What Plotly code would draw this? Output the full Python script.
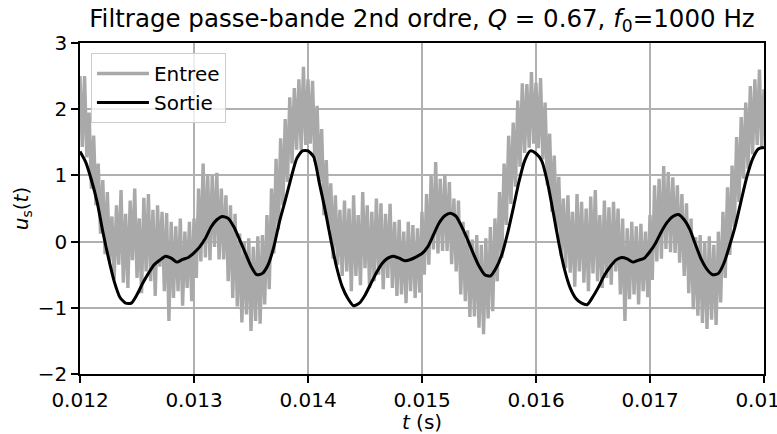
import numpy as np
import plotly.graph_objects as go

# ---- data ----
t_start = 0.012
dt_entree = 0.00002
dt_sortie = 0.00005

entree_p1 = [2.50, 1.43, 2.50, 1.27, 1.95, 0.80, 1.60, 0.55, 1.18, 0.12,
             0.93, -0.19, 0.75, -0.30, 0.38, -0.57, 0.55, -0.35, 0.78, -0.62,
             0.42, -0.70, 0.62, -0.28, 0.80, -0.55, 0.35, -0.78, 0.66, -0.45,
             0.72, -0.60, 0.48, -0.82, 0.55, -0.38, 0.45, -0.75, 0.43, -1.20,
             0.30, -0.85, 0.23, -0.75, 0.35, -0.97, 0.15, -0.70, 0.30, -0.90,
             0.35, -0.55, 0.80, -0.30, 1.18, -0.24, 1.02, -0.28, 1.00, -0.08,
             1.04, -0.27, 0.80, -0.27, 0.70, -0.60, 0.55, -0.85, 0.42, -0.98,
             0.12, -1.22, 0.00, -1.10, 0.05, -1.35, -0.08, -1.20, 0.08, -1.24,
             0.10, -0.95, 0.40, -0.72, 0.80, -0.18, 1.25, 0.18, 1.56, 0.55,
             1.85, 0.90, 2.18, 1.18, 2.32, 1.39, 2.45, 1.39, 2.64, 1.46]
entree_p2 = [2.45, 1.48, 2.43, 1.20, 2.05, 0.90, 1.70, 0.40, 1.23, 0.20,
             0.88, -0.26, 0.70, -0.35, 0.48, -0.52, 0.62, -0.45, 0.50, -0.75,
             0.70, -0.52, 0.40, -0.66, 0.75, -0.40, 0.55, -0.70, 0.45, -0.60,
             0.65, -0.50, 0.58, -0.72, 0.42, -0.55, 0.57, -0.70, 0.30, -0.82,
             0.33, -0.80, 0.15, -0.93, 0.30, -0.75, 0.25, -0.85, 0.20, -0.77,
             0.45, -0.50, 0.72, -0.35, 1.00, -0.12, 1.20, -0.18, 0.95, -0.14,
             1.02, -0.14, 0.90, -0.34, 0.65, -0.45, 0.62, -0.80, 0.30, -0.90,
             0.17, -1.14, 0.03, -1.13, 0.10, -1.30, -0.05, -1.40, 0.05, -1.16,
             0.22, -1.05, 0.35, -0.60, 0.75, -0.25, 1.18, 0.25, 1.60, 0.57,
             1.80, 0.83, 2.13, 1.13, 2.39, 1.34, 2.38, 1.42, 2.56, 1.48]
entree_p3 = [2.40, 1.41, 2.47, 1.24, 2.10, 0.85, 1.63, 0.45, 1.30, 0.17,
             0.98, -0.22, 0.65, -0.40, 0.70, -0.47, 0.45, -0.68, 0.72, -0.45,
             0.60, -0.62, 0.50, -0.75, 0.68, -0.48, 0.78, -0.60, 0.40, -0.70,
             0.62, -0.55, 0.52, -0.65, 0.60, -0.45, 0.50, -0.80, 0.35, -1.20,
             0.20, -0.87, 0.30, -0.80, 0.23, -0.95, 0.27, -0.75, 0.15, -0.84,
             0.40, -0.58, 0.85, -0.30, 0.95, -0.26, 1.14, -0.11, 1.05, -0.16,
             0.97, -0.17, 0.85, -0.32, 0.72, -0.52, 0.58, -0.78, 0.35, -1.02,
             0.07, -1.12, 0.10, -1.23, 0.00, -1.32, 0.08, -1.18, -0.05, -1.26,
             0.15, -0.92, 0.45, -0.55, 0.82, -0.20, 1.15, 0.22, 1.58, 0.60,
             1.88, 0.95, 2.10, 1.10, 2.35, 1.32, 2.45, 1.46, 2.60, 1.41]
entree_end = [2.30]

sortie_p1 = [1.36, 1.20, 0.93, 0.60, 0.15, -0.25, -0.60, -0.84, -0.93, -0.93,
             -0.80, -0.63, -0.48, -0.35, -0.28, -0.22, -0.25, -0.31, -0.27, -0.24,
             -0.17, -0.08, 0.05, 0.22, 0.33, 0.38, 0.35, 0.22, 0.03, -0.17,
             -0.37, -0.50, -0.48, -0.35, -0.08, 0.30, 0.62, 0.95, 1.25, 1.37]
sortie_p2 = [1.37, 1.28, 0.88, 0.48, 0.03, -0.38, -0.68, -0.86, -0.97, -0.93,
             -0.81, -0.64, -0.47, -0.33, -0.25, -0.22, -0.25, -0.29, -0.27, -0.23,
             -0.18, -0.08, 0.10, 0.28, 0.39, 0.43, 0.38, 0.22, 0.03, -0.18,
             -0.37, -0.50, -0.52, -0.40, -0.20, 0.12, 0.50, 0.90, 1.22, 1.37]
sortie_p3 = [1.33, 1.22, 0.90, 0.45, -0.02, -0.42, -0.70, -0.86, -0.93, -0.95,
             -0.83, -0.68, -0.51, -0.38, -0.28, -0.24, -0.26, -0.31, -0.28, -0.25,
             -0.15, -0.02, 0.15, 0.29, 0.38, 0.41, 0.33, 0.18, -0.05, -0.27,
             -0.42, -0.50, -0.48, -0.32, -0.05, 0.25, 0.62, 0.98, 1.25, 1.40]
sortie_end = [1.42]

x_ticks = [0.012, 0.013, 0.014, 0.015, 0.016, 0.017, 0.018]
x_ticklabels = ["0.012", "0.013", "0.014", "0.015", "0.016", "0.017", "0.018"]
y_ticks = [-2, -1, 0, 1, 2, 3]

entree = entree_p1 + entree_p2 + entree_p3 + entree_end
sortie = sortie_p1 + sortie_p2 + sortie_p3 + sortie_end
t_entree = t_start + dt_entree * np.arange(len(entree))
t_sortie = t_start + dt_sortie * np.arange(len(sortie))

# ---- figure ----
FONT = "DejaVu Sans"
fig = go.Figure()
fig.add_trace(go.Scatter(x=t_entree, y=entree, mode="lines", name="Entree",
                         line=dict(color="#a9a9a9", width=3.4)))
fig.add_trace(go.Scatter(x=t_sortie, y=sortie, mode="lines", name="Sortie",
                         line=dict(color="black", width=3, shape="spline", smoothing=0.6)))

axis_common = dict(showgrid=True, gridcolor="#b0b0b0", gridwidth=1.6,
                   showline=True, linecolor="black", linewidth=1.6, mirror=True,
                   ticks="outside", ticklen=7, tickwidth=1.6, tickcolor="black",
                   zeroline=False, automargin=False, ticklabeloverflow="allow",
                   tickfont=dict(family=FONT, size=20, color="black"))

fig.update_xaxes(range=[0.012, 0.018], tickvals=x_ticks, ticktext=x_ticklabels,
                 title=dict(text="<i>t</i> (s)", font=dict(family=FONT, size=20, color="black"),
                            standoff=9),
                 **axis_common)
fig.update_yaxes(range=[-2, 3], tickvals=y_ticks,
                 title=dict(text="<i>u</i><sub>s</sub>(<i>t</i>)",
                            font=dict(family=FONT, size=20, color="black"), standoff=4),
                 **axis_common)

fig.update_layout(
    width=777, height=434,
    margin=dict(l=80, r=13, t=43, b=60),
    paper_bgcolor="white", plot_bgcolor="white",
    title=dict(text="Filtrage passe-bande 2nd ordre, <i>Q</i> = 0.67, <i>f</i><sub>0</sub>=1000 Hz",
               font=dict(family=FONT, size=24.5, color="black"),
               xref="paper", x=0.5, xanchor="center", y=1 - 18 / 434, yanchor="middle"),
    legend=dict(x=0.016, y=0.97, xanchor="left", yanchor="top", itemwidth=52,
                bgcolor="rgba(255,255,255,0.8)", bordercolor="#cccccc", borderwidth=1,
                font=dict(family=FONT, size=20, color="black"), tracegroupgap=0),
    showlegend=True,
)

fig.write_html("out.html", config={"displayModeBar": False},
               post_script="document.body.style.margin='0';")
